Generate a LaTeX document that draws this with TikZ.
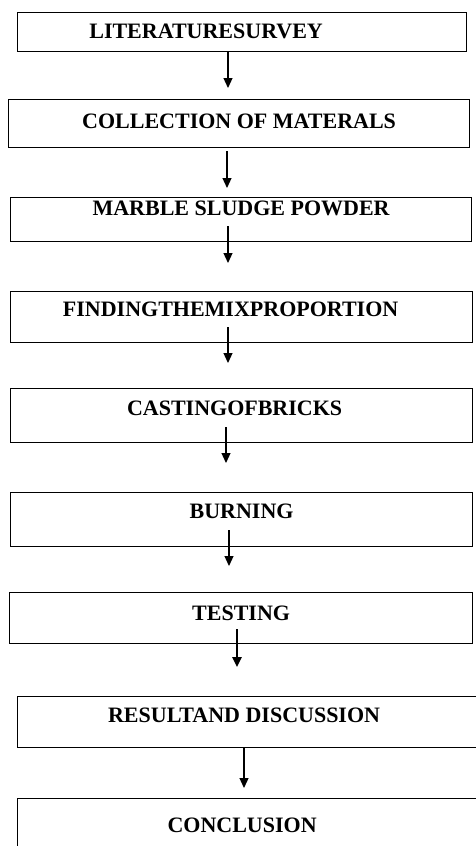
\documentclass[tikz,border=0pt]{standalone}
\usepackage{fontspec}
\setmainfont{Liberation Serif}
\usepackage{tikz}
\usetikzlibrary{positioning,arrows.meta}

\begin{document}
\begin{tikzpicture}[
    x=1pt, y=-1pt,
    stepBox/.style={rectangle, draw=black, line width=1.2pt, anchor=north west, inner sep=0pt, font=\bfseries\fontsize{22}{24}\selectfont},
    flowArrow/.style={-{Triangle[length=10pt, width=9pt]}, line width=1.2pt, draw=black}
]
    \path[use as bounding box, fill=white] (0,0) rectangle (475,846);

    % process boxes
    \node[stepBox, minimum width=449pt, text height=26pt, text depth=13pt] (survey) at (17,12) {LITERATURESURVEY\hspace*{72pt}};
    \node[stepBox, minimum width=461pt, text height=29pt, text depth=19pt] (collect) at (8,99) {COLLECTION OF MATERALS};
    \node[stepBox, minimum width=461pt, text height=18pt, text depth=26pt] (marble) at (10,197) {MARBLE SLUDGE POWDER};
    \node[stepBox, minimum width=462pt, text height=25pt, text depth=26pt] (mix) at (10,291) {FINDINGTHEMIXPROPORTION\hspace*{22pt}};
    \node[stepBox, minimum width=462pt, text height=27pt, text depth=27pt] (casting) at (10,388) {CASTINGOFBRICKS\hspace*{14pt}};
    \node[stepBox, minimum width=462pt, text height=26pt, text depth=28pt] (burning) at (10,492) {BURNING};
    \node[stepBox, minimum width=463pt, text height=28pt, text depth=23pt] (testing) at (9,592) {TESTING};
    \node[stepBox, minimum width=463pt, text height=26pt, text depth=25pt] (result) at (17,696) {RESULTAND DISCUSSION\hspace*{10pt}};
    \node[stepBox, minimum width=463pt, text height=34pt, text depth=18pt] (conclusion) at (17,798) {CONCLUSION\hspace*{14pt}};

    % arrow tips
    \coordinate (tip1) at (228,88);
    \coordinate (tip2) at (227,188);
    \coordinate (tip3) at (228,263);
    \coordinate (tip4) at (228,363);
    \coordinate (tip5) at (226,463);
    \coordinate (tip6) at (229,566);
    \coordinate (tip7) at (237,667);
    \coordinate (tip8) at (244,788);

    \draw[flowArrow] (survey.south -| tip1) -- (tip1);
    \draw[flowArrow] ([yshift=-3pt]collect.south -| tip2) -- (tip2);
    \draw[flowArrow] ([yshift=16pt]marble.south -| tip3) -- (tip3);
    \draw[flowArrow] ([yshift=16pt]mix.south -| tip4) -- (tip4);
    \draw[flowArrow] ([yshift=16pt]casting.south -| tip5) -- (tip5);
    \draw[flowArrow] ([yshift=17pt]burning.south -| tip6) -- (tip6);
    \draw[flowArrow, line width=2.4pt] ([yshift=15pt]testing.south -| tip7) -- (tip7);
    \draw[flowArrow] (result.south -| tip8) -- (tip8);
\end{tikzpicture}
\end{document}
